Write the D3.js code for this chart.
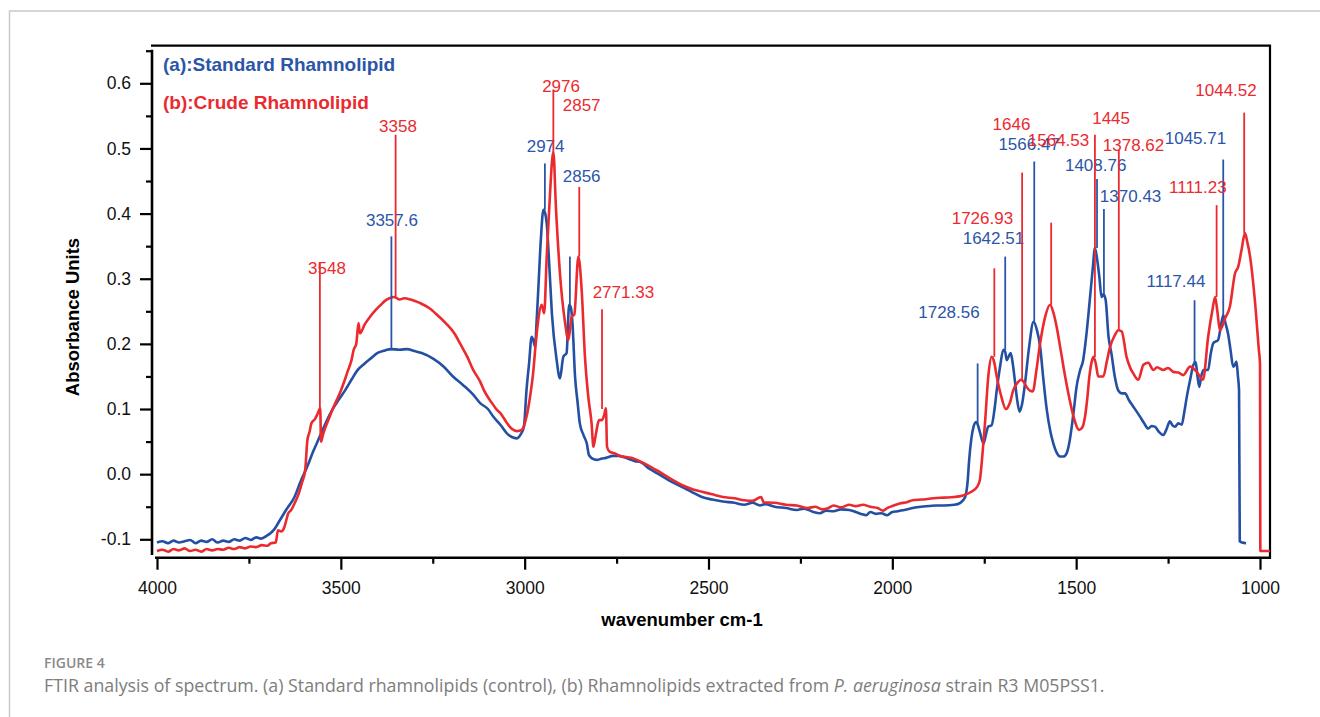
<!DOCTYPE html>
<html>
<head>
<meta charset="utf-8">
<script src="https://cdn.jsdelivr.net/npm/d3@7"></script>
<style>
  body { margin: 0; background: #fff; }
  svg { display: block; }
  text { font-family: "Liberation Sans", Arial, sans-serif; }
</style>
</head>
<body>
<svg id="chart" width="1320" height="717"></svg>
<script>
// wavenumber (cm-1), absorbance
const standardSpectrum = [
  [4000,-0.105],[3985,-0.103],[3970,-0.106],[3955,-0.102],[3940,-0.105],[3925,-0.103],[3910,-0.101],
  [3895,-0.106],[3880,-0.102],[3865,-0.104],[3850,-0.100],[3835,-0.105],[3820,-0.102],[3805,-0.104],
  [3790,-0.100],[3775,-0.102],[3760,-0.098],[3745,-0.101],[3730,-0.097],[3717,-0.099],[3700,-0.094],
  [3690,-0.090],[3683,-0.086],[3665,-0.070],[3649,-0.055],[3626,-0.035],[3610,-0.012],[3591,0.012],
  [3575,0.035],[3557,0.058],[3540,0.080],[3523,0.099],[3505,0.115],[3488,0.129],[3470,0.146],
  [3454,0.160],[3435,0.170],[3420,0.177],[3400,0.186],[3380,0.190],[3364,0.192],[3340,0.191],
  [3320,0.192],[3300,0.189],[3280,0.186],[3248,0.177],[3220,0.165],[3195,0.150],[3168,0.137],
  [3140,0.122],[3121,0.109],[3100,0.100],[3085,0.088],[3065,0.075],[3049,0.063],[3035,0.057],
  [3022,0.055],[3012,0.060],[3002,0.073],[2995,0.129],[2988,0.170],[2981,0.211],[2976,0.205],
  [2972,0.196],[2967,0.240],[2963,0.283],[2956,0.360],[2949,0.406],[2944,0.400],[2940,0.385],
  [2933,0.320],[2926,0.247],[2913,0.175],[2904,0.147],[2895,0.180],[2886,0.186],[2879,0.260],
  [2874,0.255],[2870,0.232],[2863,0.150],[2856,0.110],[2850,0.078],[2840,0.060],[2831,0.047],
  [2825,0.029],[2812,0.023],[2802,0.022],[2790,0.024],[2779,0.025],[2760,0.028],[2744,0.028],
  [2720,0.024],[2700,0.020],[2687,0.019],[2660,0.008],[2632,-0.001],[2600,-0.012],[2563,-0.022],
  [2540,-0.029],[2518,-0.035],[2490,-0.039],[2461,-0.042],[2430,-0.044],[2403,-0.047],[2380,-0.044],
  [2360,-0.048],[2346,-0.046],[2320,-0.050],[2289,-0.052],[2260,-0.055],[2240,-0.053],[2215,-0.058],
  [2197,-0.060],[2180,-0.056],[2160,-0.057],[2140,-0.054],[2117,-0.055],[2100,-0.058],[2085,-0.061],
  [2071,-0.063],[2060,-0.058],[2045,-0.061],[2030,-0.060],[2014,-0.063],[2000,-0.058],[1985,-0.057],
  [1968,-0.055],[1945,-0.052],[1922,-0.050],[1900,-0.049],[1880,-0.048],[1860,-0.048],[1831,-0.047],
  [1815,-0.044],[1802,-0.035],[1795,-0.010],[1791,0.022],[1785,0.055],[1779,0.073],[1772,0.080],
  [1769,0.078],[1762,0.065],[1752,0.047],[1745,0.062],[1739,0.073],[1730,0.075],[1722,0.100],
  [1716,0.129],[1707,0.165],[1698,0.191],[1693,0.188],[1689,0.175],[1684,0.180],[1678,0.186],
  [1672,0.168],[1666,0.140],[1660,0.112],[1654,0.096],[1647,0.108],[1639,0.140],[1628,0.195],
  [1616,0.234],[1607,0.222],[1598,0.196],[1590,0.150],[1580,0.099],[1570,0.065],[1562,0.047],
  [1553,0.033],[1544,0.027],[1535,0.027],[1526,0.032],[1518,0.050],[1512,0.073],[1505,0.105],
  [1499,0.134],[1490,0.158],[1481,0.175],[1472,0.215],[1463,0.267],[1455,0.315],[1449,0.347],
  [1443,0.330],[1437,0.303],[1431,0.272],[1426,0.276],[1420,0.268],[1412,0.211],[1404,0.185],
  [1395,0.150],[1385,0.128],[1376,0.124],[1367,0.124],[1356,0.113],[1345,0.104],[1326,0.088],
  [1315,0.078],[1304,0.070],[1295,0.074],[1286,0.073],[1275,0.065],[1263,0.060],[1255,0.068],
  [1245,0.081],[1238,0.075],[1231,0.073],[1222,0.078],[1213,0.076],[1206,0.095],[1199,0.119],
  [1190,0.145],[1181,0.168],[1175,0.172],[1170,0.150],[1165,0.134],[1160,0.150],[1154,0.160],
  [1141,0.160],[1134,0.185],[1127,0.201],[1114,0.206],[1107,0.225],[1100,0.244],[1094,0.232],
  [1087,0.216],[1080,0.190],[1073,0.165],[1068,0.168],[1064,0.173],[1060,0.150],[1057,0.129],
  [1055,-0.103],[1048,-0.105],[1038,-0.106]
];

const crudeSpectrum = [
  [4000,-0.118],[3985,-0.116],[3970,-0.119],[3955,-0.115],[3940,-0.117],[3925,-0.114],[3910,-0.118],
  [3895,-0.116],[3880,-0.119],[3865,-0.115],[3850,-0.117],[3835,-0.115],[3820,-0.116],[3805,-0.113],
  [3790,-0.115],[3775,-0.112],[3760,-0.114],[3745,-0.111],[3730,-0.112],[3715,-0.109],[3700,-0.110],
  [3690,-0.106],[3677,-0.105],[3671,-0.086],[3662,-0.088],[3654,-0.082],[3648,-0.070],[3643,-0.060],
  [3635,-0.055],[3626,-0.045],[3614,-0.029],[3605,-0.012],[3597,0.006],[3591,0.052],[3585,0.065],
  [3580,0.078],[3570,0.085],[3563,0.093],[3556,0.101],[3554,0.050],[3548,0.062],[3534,0.083],
  [3522,0.100],[3511,0.114],[3500,0.128],[3489,0.145],[3480,0.160],[3471,0.175],[3465,0.191],
  [3458,0.200],[3452,0.232],[3448,0.216],[3435,0.230],[3420,0.242],[3405,0.252],[3391,0.260],
  [3380,0.266],[3368,0.270],[3355,0.272],[3340,0.268],[3328,0.270],[3310,0.268],[3295,0.265],
  [3282,0.262],[3260,0.255],[3237,0.244],[3215,0.232],[3191,0.216],[3175,0.200],[3156,0.180],
  [3140,0.160],[3121,0.142],[3111,0.129],[3090,0.110],[3076,0.099],[3065,0.093],[3050,0.080],
  [3036,0.070],[3020,0.066],[3008,0.068],[2995,0.088],[2985,0.120],[2977,0.155],[2970,0.200],
  [2963,0.237],[2954,0.260],[2947,0.247],[2940,0.334],[2933,0.410],[2922,0.495],[2915,0.410],
  [2904,0.308],[2890,0.232],[2881,0.206],[2872,0.242],[2865,0.245],[2854,0.334],[2845,0.283],
  [2836,0.180],[2827,0.119],[2818,0.078],[2813,0.042],[2809,0.053],[2797,0.083],[2790,0.083],
  [2784,0.090],[2779,0.101],[2776,0.042],[2770,0.035],[2756,0.032],[2740,0.028],[2710,0.025],
  [2680,0.018],[2641,0.006],[2600,-0.008],[2563,-0.019],[2540,-0.024],[2518,-0.027],[2490,-0.031],
  [2461,-0.035],[2430,-0.037],[2403,-0.040],[2380,-0.041],[2357,-0.035],[2350,-0.043],[2320,-0.044],
  [2289,-0.047],[2260,-0.048],[2231,-0.052],[2210,-0.050],[2190,-0.054],[2174,-0.052],[2160,-0.048],
  [2140,-0.051],[2117,-0.047],[2100,-0.049],[2080,-0.047],[2060,-0.050],[2040,-0.052],[2025,-0.056],
  [2014,-0.052],[2000,-0.049],[1980,-0.045],[1960,-0.043],[1945,-0.040],[1920,-0.039],[1888,-0.037],
  [1860,-0.036],[1831,-0.035],[1810,-0.033],[1785,-0.027],[1770,-0.020],[1762,-0.009],[1755,0.030],
  [1748,0.078],[1739,0.150],[1730,0.180],[1723,0.172],[1716,0.150],[1704,0.120],[1691,0.100],
  [1680,0.110],[1671,0.129],[1660,0.140],[1650,0.145],[1642,0.141],[1635,0.134],[1625,0.128],
  [1618,0.127],[1608,0.160],[1598,0.201],[1585,0.240],[1571,0.260],[1562,0.248],[1553,0.226],
  [1542,0.190],[1530,0.150],[1518,0.115],[1507,0.088],[1492,0.068],[1483,0.072],[1476,0.088],
  [1470,0.115],[1464,0.150],[1458,0.172],[1453,0.180],[1446,0.168],[1440,0.150],[1426,0.150],
  [1417,0.172],[1408,0.195],[1396,0.212],[1385,0.221],[1376,0.219],[1363,0.180],[1352,0.162],
  [1345,0.155],[1331,0.145],[1317,0.168],[1304,0.171],[1290,0.160],[1280,0.164],[1263,0.160],
  [1250,0.163],[1236,0.157],[1222,0.156],[1209,0.152],[1190,0.165],[1172,0.157],[1155,0.145],
  [1141,0.211],[1130,0.250],[1122,0.272],[1116,0.250],[1109,0.221],[1095,0.239],[1082,0.257],
  [1068,0.308],[1059,0.319],[1050,0.345],[1041,0.370],[1034,0.355],[1027,0.334],[1014,0.267],
  [1003,0.190],[1000,0.170],[999,-0.118],[985,-0.118],[973,-0.118]
];

// peak markers: line at `at` from `base` up to `top`; label anchored at (lx, ly)
const standardPeaks = [
  { label: '3357.6', at: 3362.5, top: 0.365, base: 0.19, lx: 3361, ly: 0.39 },
  { label: '2974', at: 2945, top: 0.477, base: 0.406, lx: 2943, ly: 0.503 },
  { label: '2856', at: 2877, top: 0.334, base: 0.26, lx: 2845, ly: 0.458 },
  { label: '1728.56', at: 1768, top: 0.17, base: 0.078, lx: 1846, ly: 0.249 },
  { label: '1642.51', at: 1693, top: 0.334, base: 0.19, lx: 1725, ly: 0.362 },
  { label: '1566.47', at: 1614, top: 0.48, base: 0.234, lx: 1628, ly: 0.507 },
  { label: '1408.76', at: 1443.3, top: 0.453, base: 0.347, lx: 1447, ly: 0.475 },
  { label: '1370.43', at: 1424.5, top: 0.407, base: 0.275, lx: 1352, ly: 0.427 },
  { label: '1117.44', at: 1178, top: 0.267, base: 0.17, lx: 1228.5, ly: 0.297 },
  { label: '1045.71', at: 1100, top: 0.483, base: 0.244, lx: 1175.5, ly: 0.516 }
];

const crudePeaks = [
  { label: '3548', at: 3557, top: 0.325, base: 0.10, lx: 3537.6, ly: 0.316 },
  { label: '3358', at: 3351, top: 0.521, base: 0.27, lx: 3344.5, ly: 0.535 },
  { label: '2976', at: 2922, top: 0.59, base: 0.495, lx: 2901, ly: 0.596 },
  { label: '2857', at: 2851.5, top: 0.441, base: 0.334, lx: 2845, ly: 0.566 },
  { label: '2771.33', at: 2789.6, top: 0.253, base: 0.10, lx: 2731.5, ly: 0.28 },
  { label: '1726.93', at: 1722.6, top: 0.316, base: 0.18, lx: 1755, ly: 0.393 },
  { label: '1646', at: 1647, top: 0.463, base: 0.145, lx: 1676, ly: 0.538 },
  { label: '1564.53', at: 1568, top: 0.386, base: 0.26, lx: 1548, ly: 0.513 },
  { label: '1445', at: 1449, top: 0.521, base: 0.18, lx: 1405, ly: 0.546 },
  { label: '1378.62', at: 1384, top: 0.498, base: 0.221, lx: 1344, ly: 0.505 },
  { label: '1111.23', at: 1118, top: 0.413, base: 0.272, lx: 1169, ly: 0.441 },
  { label: '1044.52', at: 1043, top: 0.555, base: 0.37, lx: 1092.4, ly: 0.59 }
];

const xMajorTicks = [4000, 3500, 3000, 2500, 2000, 1500, 1000];
const xMinorTicks = [3750, 3250, 2750, 2250, 1750, 1250];
const yMajorTicks = [-0.1, 0.0, 0.1, 0.2, 0.3, 0.4, 0.5, 0.6];
const yMinorTicks = [-0.05, 0.05, 0.15, 0.25, 0.35, 0.45, 0.55, 0.65];

const seriesNames = ['(a):Standard Rhamnolipid', '(b):Crude Rhamnolipid'];

const BLUE = '#2350a2';
const RED = '#eb2a2f';

const svg = d3.select('#chart');

// outer figure frame (top + left edges visible)
svg.append('path')
  .attr('d', 'M9.5,717 V11 H1320')
  .attr('fill', 'none')
  .attr('stroke', '#c9c9c9')
  .attr('stroke-width', 1.5);

const x = d3.scaleLinear().domain([4000, 1000]).range([157, 1260]);
const y = d3.scaleLinear().domain([-0.1, 0.6]).range([539.3, 83.3]);

const axisY = 557.7;
const axisX = 152;
const boxTop = 45.7;
const boxRight = 1270;

// plot frame
svg.append('path')
  .attr('d', `M${axisX - 1},${boxTop} H${boxRight} V${axisY + 1}`)
  .attr('fill', 'none').attr('stroke', '#000').attr('stroke-width', 2.2);
svg.append('line')
  .attr('x1', x(4000) - 2).attr('x2', boxRight + 1)
  .attr('y1', axisY).attr('y2', axisY)
  .attr('stroke', '#000').attr('stroke-width', 2.6);
svg.append('line')
  .attr('x1', axisX).attr('x2', axisX)
  .attr('y1', y(0.65) - 1).attr('y2', 555)
  .attr('stroke', '#000').attr('stroke-width', 2.6);

function styleAxis(g) {
  g.select('.domain').remove();
  g.selectAll('.tick line').attr('stroke', '#000').attr('stroke-width', 2.2);
  g.selectAll('.tick text')
    .attr('fill', '#111')
    .style('font-size', '17.5px')
    .style('font-family', '"Liberation Sans", Arial, sans-serif');
}

svg.append('g')
  .attr('transform', `translate(0,${axisY})`)
  .call(d3.axisBottom(x).tickValues(xMajorTicks).tickSize(12).tickPadding(12).tickFormat(d3.format('d')))
  .call(styleAxis);
svg.append('g')
  .attr('transform', `translate(0,${axisY})`)
  .call(d3.axisBottom(x).tickValues(xMinorTicks).tickSize(6).tickFormat(''))
  .call(styleAxis);
svg.append('g')
  .attr('transform', `translate(${axisX},0)`)
  .call(d3.axisLeft(y).tickValues(yMajorTicks).tickSize(12).tickPadding(9).tickFormat((d) => d.toFixed(1)))
  .call(styleAxis);
svg.append('g')
  .attr('transform', `translate(${axisX},0)`)
  .call(d3.axisLeft(y).tickValues(yMinorTicks).tickSize(6).tickFormat(''))
  .call(styleAxis);

// axis titles
svg.append('text')
  .attr('transform', 'translate(73,317) rotate(-90)')
  .attr('text-anchor', 'middle').attr('dy', '0.35em')
  .style('font-size', '18.5px').style('font-weight', 'bold')
  .text('Absorbance Units');
svg.append('text')
  .attr('x', 682).attr('y', 620)
  .attr('text-anchor', 'middle').attr('dy', '0.35em')
  .style('font-size', '18.5px').style('font-weight', 'bold')
  .text('wavenumber cm-1');

// spectra
const line = d3.line()
  .x((d) => x(d[0]))
  .y((d) => y(d[1]))
  .curve(d3.curveMonotoneX);

svg.append('path')
  .datum(standardSpectrum)
  .attr('d', line)
  .attr('fill', 'none').attr('stroke', BLUE)
  .attr('stroke-width', 2.6).attr('stroke-linejoin', 'round');

svg.append('path')
  .datum(crudeSpectrum)
  .attr('d', line)
  .attr('fill', 'none').attr('stroke', RED)
  .attr('stroke-width', 2.6).attr('stroke-linejoin', 'round');

// peak markers
function drawPeaks(peaks, color) {
  const g = svg.append('g');
  g.selectAll('line')
    .data(peaks)
    .join('line')
    .attr('x1', (d) => x(d.at)).attr('x2', (d) => x(d.at))
    .attr('y1', (d) => y(d.top)).attr('y2', (d) => y(d.base))
    .attr('stroke', color).attr('stroke-width', 1.8);
  g.selectAll('text')
    .data(peaks)
    .join('text')
    .attr('x', (d) => x(d.lx)).attr('y', (d) => y(d.ly))
    .attr('text-anchor', 'middle').attr('dy', '0.35em')
    .attr('fill', color)
    .style('font-size', '17px')
    .text((d) => d.label);
}
drawPeaks(standardPeaks, '#2b56a8');
drawPeaks(crudePeaks, RED);

// series names
svg.selectAll('.series-name')
  .data(seriesNames)
  .join('text')
  .attr('class', 'series-name')
  .attr('x', 163)
  .attr('y', (d, i) => 64.5 + i * 38)
  .attr('dy', '0.35em')
  .attr('fill', (d, i) => (i === 0 ? '#2b56a8' : RED))
  .style('font-size', '19px').style('font-weight', 'bold')
  .text((d) => d);

// caption
svg.append('text')
  .attr('x', 44).attr('y', 663).attr('dy', '0.35em')
  .attr('fill', '#8a8a8a')
  .style('font-family', '"Open Sans", "Noto Sans", sans-serif')
  .style('font-size', '14px').style('font-weight', 600)
  .text('FIGURE 4');

const caption = svg.append('text')
  .attr('x', 44).attr('y', 686).attr('dy', '0.35em')
  .attr('fill', '#7d7d7d')
  .style('font-family', '"Open Sans", "Noto Sans", sans-serif')
  .style('font-size', '15.5px');
caption.append('tspan').text('FTIR analysis of spectrum. (a) Standard rhamnolipids (control), (b) Rhamnolipids extracted from ');
caption.append('tspan').style('font-style', 'italic').text('P. aeruginosa');
caption.append('tspan').text(' strain R3 M05PSS1.');

// fit caption width to the figure (ends near x = 1105)
const capLen = caption.node().getComputedTextLength();
caption.style('font-size', (15.5 * 1061 / capLen).toFixed(2) + 'px');
</script>
</body>
</html>
